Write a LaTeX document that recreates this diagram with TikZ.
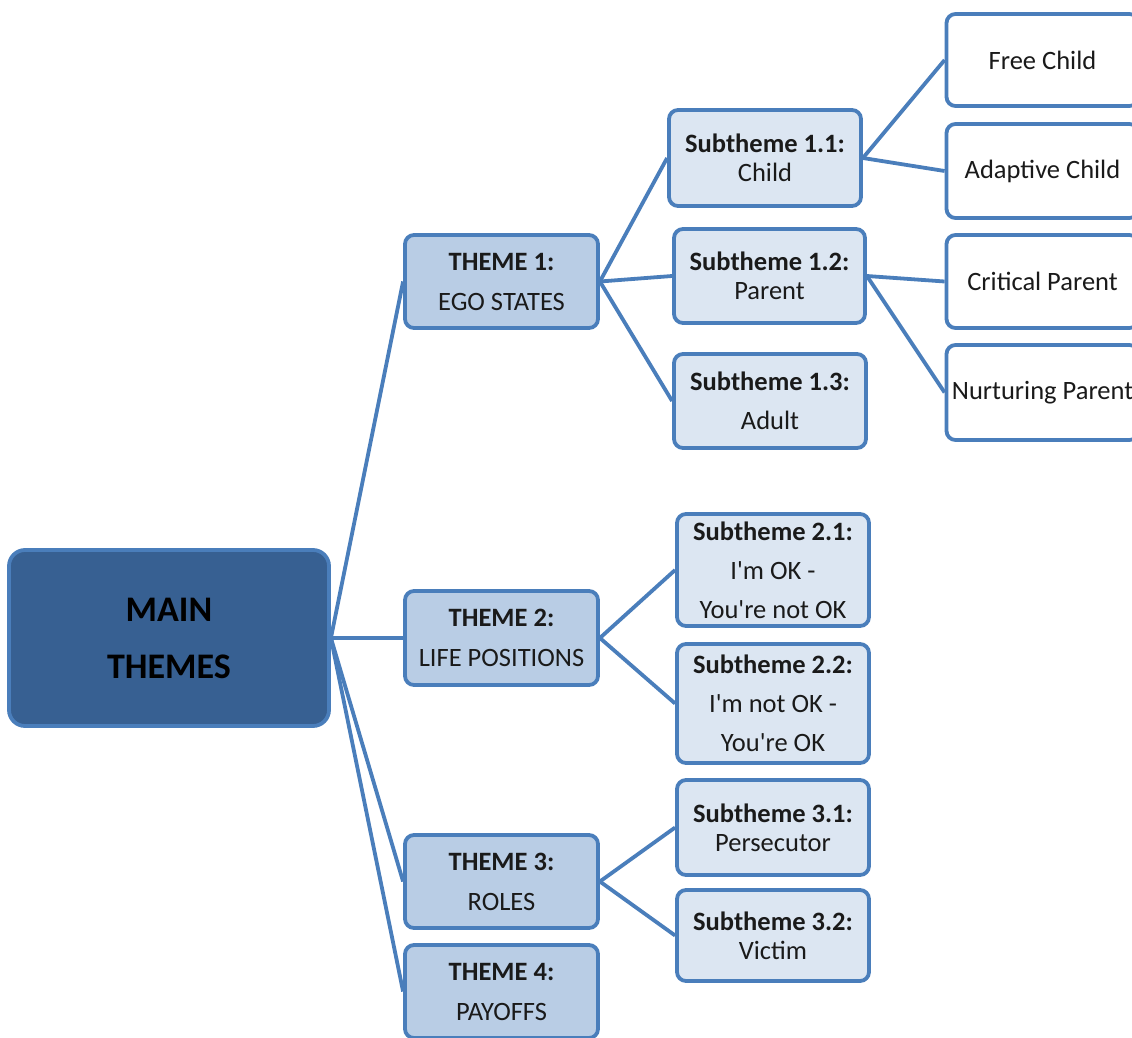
\documentclass[tikz,border=0pt]{standalone}
\usepackage{fontspec}
\setmainfont{Carlito}
\definecolor{edge}{HTML}{4A7EBB}
\definecolor{mainfill}{HTML}{376092}
\definecolor{themefill}{HTML}{B9CDE5}
\definecolor{subfill}{HTML}{DCE6F2}
\definecolor{txt}{HTML}{1A1A1A}
\newcommand{\apos}{\textquotesingle}
\tikzset{
  box/.style={draw=edge, line width=3.8pt, rounded corners=9pt, align=center, inner sep=0pt, text=txt},
  mainbox/.style={box, fill=mainfill, rounded corners=16pt, text=black, font={\fontsize{36}{57}\selectfont\bfseries}},
  themebox/.style={box, fill=themefill, font={\fontsize{26.5}{40}\selectfont}},
  subbox/.style={box, fill=subfill, font={\fontsize{26.5}{29}\selectfont}},
  subboxw/.style={box, fill=subfill, font={\fontsize{26.5}{39}\selectfont}},
  leafbox/.style={box, fill=white, font={\fontsize{26.5}{29}\selectfont}},
  conn/.style={draw=edge, line width=3.8pt}
}
\begin{document}
\begin{tikzpicture}[x=1pt, y=-1pt]
\useasboundingbox (0,0) rectangle (1132,1038);
% main
\node[mainbox, minimum width=320pt, minimum height=176pt] (main) at (169,638) {MAIN\\THEMES};
% themes
\node[themebox, minimum width=193pt, minimum height=93pt] (t1) at (501.5,281.5) {\textbf{THEME 1:}\\EGO STATES};
\node[themebox, minimum width=193pt, minimum height=94pt] (t2) at (501.5,638) {\textbf{THEME 2:}\\LIFE POSITIONS};
\node[themebox, minimum width=193pt, minimum height=93pt] (t3) at (501.5,881.5) {\textbf{THEME 3:}\\ROLES};
\node[themebox, minimum width=193pt, minimum height=93pt] (t4) at (501.5,991.5) {\textbf{THEME 4:}\\PAYOFFS};
% subthemes
\node[subbox, minimum width=192pt, minimum height=96pt] (s11) at (765,158) {\textbf{Subtheme 1.1:}\\Child};
\node[subbox, minimum width=191pt, minimum height=94pt] (s12) at (769.5,276) {\textbf{Subtheme 1.2:}\\Parent};
\node[subboxw, minimum width=192pt, minimum height=94pt] (s13) at (770,401) {\textbf{Subtheme 1.3:}\\Adult};
\node[subboxw, minimum width=192pt, minimum height=112pt] (s21) at (773,570) {\textbf{Subtheme 2.1:}\\I\apos m OK -\\You\apos re not OK};
\node[subboxw, minimum width=192pt, minimum height=119pt] (s22) at (773,703.5) {\textbf{Subtheme 2.2:}\\I\apos m not OK -\\You\apos re OK};
\node[subbox, minimum width=192pt, minimum height=95pt] (s31) at (773,827.5) {\textbf{Subtheme 3.1:}\\Persecutor};
\node[subbox, minimum width=192pt, minimum height=91pt] (s32) at (773,935.5) {\textbf{Subtheme 3.2:}\\Victim};
% leaves
\node[leafbox, minimum width=192pt, minimum height=92pt] (l1) at (1042.5,60) {Free Child};
\node[leafbox, minimum width=192pt, minimum height=94pt] (l2) at (1042.5,171) {Adaptive Child};
\node[leafbox, minimum width=192pt, minimum height=93pt] (l3) at (1042.5,281.5) {Critical Parent};
\node[leafbox, minimum width=192pt, minimum height=95pt] (l4) at (1042.5,392.5) {Nurturing Parent};
% connectors
\draw[conn] (main.east) -- (t1.west);
\draw[conn] (main.east) -- (t2.west);
\draw[conn] (main.east) -- (t3.west);
\draw[conn] (main.east) -- (t4.west);
\draw[conn] (t1.east) -- (s11.west);
\draw[conn] (t1.east) -- (s12.west);
\draw[conn] (t1.east) -- (s13.west);
\draw[conn] (t2.east) -- (s21.west);
\draw[conn] (t2.east) -- (s22.west);
\draw[conn] (t3.east) -- (s31.west);
\draw[conn] (t3.east) -- (s32.west);
\draw[conn] (s11.east) -- (l1.west);
\draw[conn] (s11.east) -- (l2.west);
\draw[conn] (s12.east) -- (l3.west);
\draw[conn] (s12.east) -- (l4.west);
\end{tikzpicture}
\end{document}
